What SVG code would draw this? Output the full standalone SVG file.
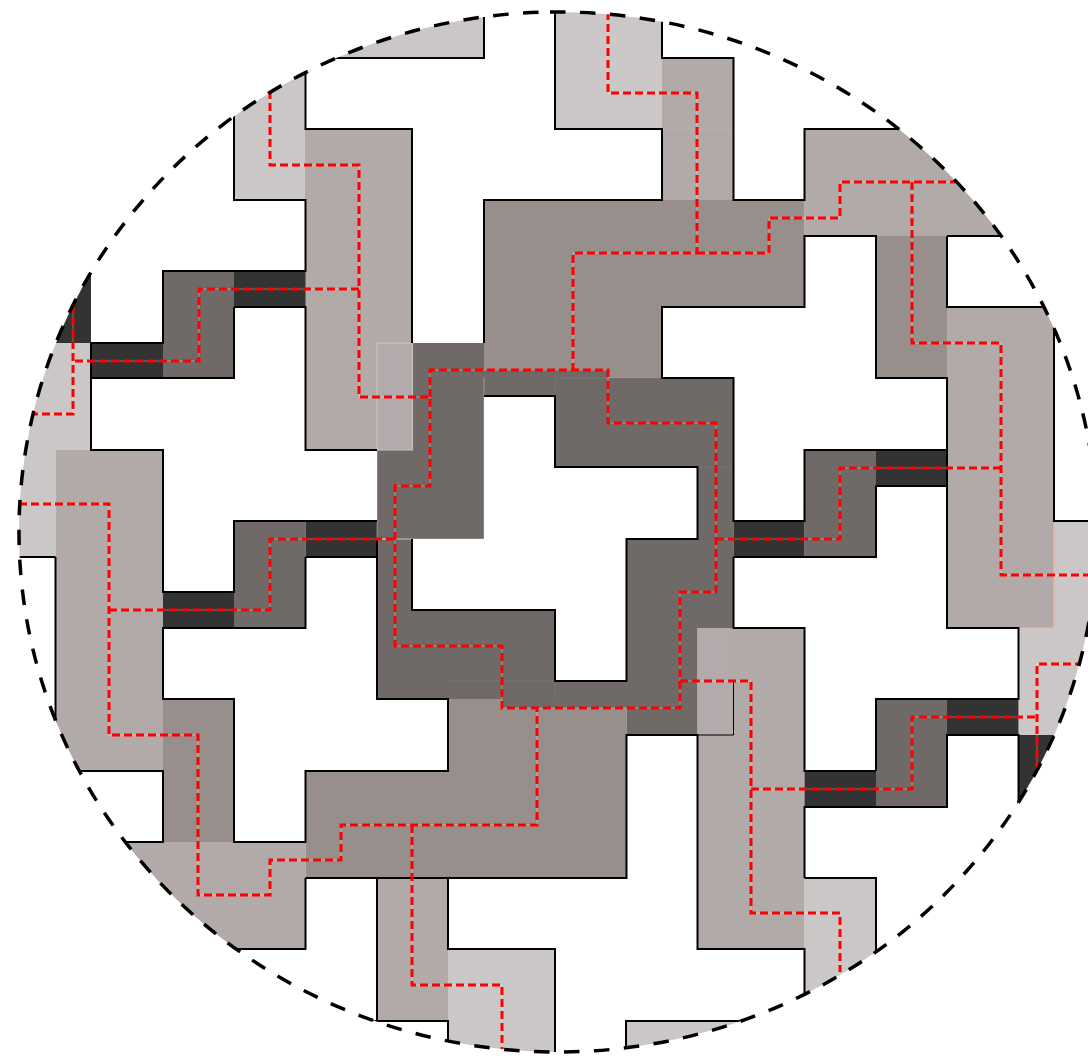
<svg xmlns="http://www.w3.org/2000/svg" width="1088" height="1062" viewBox="0 0 1088 1062">
<style>
.l{fill:#cbc7c7}.m{fill:#b2a9a9}.d{fill:#988e8c}.e{fill:#6f6968}.b{fill:#333333}
.k{fill:none;stroke:#000;stroke-width:2}
.s{fill:none;stroke:#fff;stroke-opacity:.35;stroke-width:1}
.t{fill:none;stroke:#fff;stroke-opacity:.08;stroke-width:1}
.r{fill:none;stroke:#f00;stroke-width:3;stroke-dasharray:8 4}
</style>
<defs>
<clipPath id="c"><ellipse cx="558" cy="532" rx="539" ry="520"/></clipPath>
<path id="routes" d="M608 12V93H697V253H573V370M430 397V370H608V423H716V592H680V708H502V646H395V486H430V397H359V165H270V93M359 289H199V361H73M73 305V414H33M697 253H769V218H840V182H955M912 182V343H1001V575H1088M1001 468H840V539H716M19 504H109V735H198V895H270V860H341V825H537V708M109 610H270V539H395M412 825V985H502V1052M680 681H751V913H840V972M751 789H912V717H1037M1037 770V664H1088"/>
</defs>
<rect width="1088" height="1062" fill="#fff"/>
<g id="tiles" clip-path="url(#c)">
<path class="l" d="M484 0V58H300V0ZM555 0V129H662V0ZM234 60V200H305V60ZM91 343V450H55.500V557H0V343ZM448 949H555V1062H448ZM626 1021H760V1062H626ZM804.500 878H876V1010H804.500ZM1054 521H1088V735H1018.500V628H1054Z"/>
<path class="m" d="M305 129H412V450H305ZM662 58H733.500V200H662ZM804.500 129H1020V236H804.500ZM947 307H1054V628H947ZM55.500 450H163V771H55.500ZM100 842H305.500V949H100ZM377 878H448V1021H377ZM697.500 628H804.500V949H697.500Z"/>
<path class="d" d="M484 200H804.500V307H662V378H484ZM448 699H626.500V878H305.500V771H448ZM876 236H947V378H876ZM163 699H234V842H163Z"/>
<path class="e" d="M412 343H484V369.500H608V378H733.500V628H697.500V735H626.500V708H502V699H377V343ZM163 271H234V378H163ZM234 521H305.500V628H234ZM804.500 450H876V557H804.500ZM876 699H947V807H876Z"/>
<path class="b" d="M234 271H305.500V307H234ZM91 343H163V378H91ZM91 260V343H30V260ZM305.500 521H377V557H305.500ZM163 592H234V628H163ZM876 450H947V486H876ZM733.500 521H804.500V557H733.500ZM947 699H1018.500V735H947ZM804.500 771H876V807H804.500ZM1018.500 735H1088V830H1018.500Z"/>
<path fill="#fff" d="M484 396H555V467H697.500V539H626.500V681H555V610H412V539H484Z"/>
<rect x="377" y="343" width="35.500" height="107" fill="#b3abab" stroke="#c9c5c5" stroke-width="1"/>
<rect x="697.500" y="628" width="36" height="107" fill="#b3abab"/>
<path class="s" d="M484 378V539H377V450M377 539H412"/>
<path class="t" d="M555 378H733M697 467H733M448 681H626M662 129H733M555 378V396M555 681V699"/>
<path fill="none" stroke="#f0b8a8" stroke-width="1" d="M1054 521V628H1018.500"/>
</g>
<g id="outlines" clip-path="url(#c)">
<path class="k" d="M300 58H484V0M555 0V129H662V200H484V343M662 0V58H733.500V200H804.500V129H1000M234 60V200H305.500V271H163V343H91V450H163V592H234V521H377M305.500 60V129H412V343M234 307H305.500V450H377M234 307V378H91M305.500 557H377M305.500 557V628H163V699H234V842H305.500V771H448V699H377V539M412 539V610H555V681H626.500V539H697.500V467H555V396H484M163 699V628M55.500 557H0M55.500 557V771H163V842H100M305.500 878V949H200M305.500 878H626.500V735H697.500V949H804.500V1010M377 878V1021H448V1062M377 1021H360M448 878V949H555V1062M626 1062V1021H760M804.500 878H876V1000M804.500 878V807H947V735H1018.500V850M876 771V699H1018.500V628H947V450H804.500V521H733.500V378H662V307H804.500V236H876V378H947V450M947 236V307H1060M947 236H1020M1054 307V521H1088M733.500 557H876V486H947M733.500 557V628H804.500V771H876M947 735H1018.500"/>
<path fill="none" stroke="#000" stroke-width="1" d="M733.500 681V735H697.500"/>
</g>
<g id="routes-group" clip-path="url(#c)">
<use href="#routes" class="s"/>
<use href="#routes" class="r"/>
</g>
<path id="boundary" d="M550 12A539 520 0 0 1 1097 532A539 520 0 0 1 19 532A539 520 0 0 1 550 12Z" fill="none" stroke="#000" stroke-width="3.500" stroke-dasharray="15.500 14.500"/>
</svg>
